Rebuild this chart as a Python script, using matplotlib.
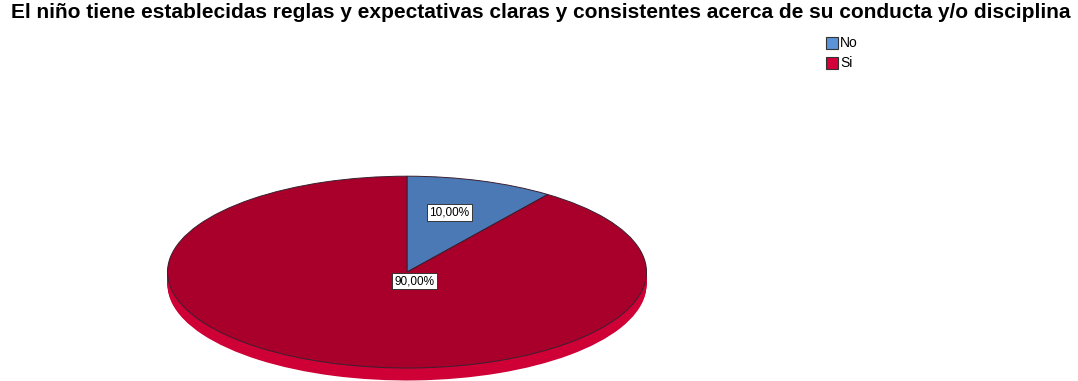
import numpy as np
import matplotlib.pyplot as plt
from matplotlib.patches import Rectangle

plt.rcParams["font.family"] = ["Liberation Sans", "DejaVu Sans"]

# Data
categories = ["No", "Si"]
percentages = [10.0, 90.0]
label_texts = ["10,00%", "90,00%"]
title = "El niño tiene establecidas reglas y expectativas claras y consistentes acerca de su conducta y/o disciplina"

top_colors = ["#4a79b6", "#a8002b"]
side_colors = ["#3b6aa8", "#cf0036"]
legend_colors = ["#5b93d8", "#d4003a"]

W, H = 1078, 381
fig = plt.figure(figsize=(W / 100, H / 100), dpi=100)

# pie axes: radius 1 -> 240 px across, 96 px tall (tilted disc)
rx, ry = 240, 96
cx, cy = 407, 272
depth = 0.13
x0 = cx - rx
ax = fig.add_axes([x0 / W, (H - (cy + ry * (1 + depth + 0.05))) / H,
                   2 * rx / W, ry * (2 + depth + 0.05) / H])

# side of the disc: stacked copies of the pie shifted downward
n_layers = 14
for k in range(n_layers, 0, -1):
    off = -depth * k / n_layers
    ax.pie(percentages, startangle=90, counterclock=False, center=(0, off),
           colors=side_colors, wedgeprops=dict(linewidth=0))

# top face
wedges, _ = ax.pie(percentages, startangle=90, counterclock=False,
                   colors=top_colors,
                   wedgeprops=dict(linewidth=0.7, edgecolor="#3a2030"))

ax.set_aspect("auto")
ax.set_xlim(-1.002, 1.002)
ax.set_ylim(-1 - depth - 0.05, 1.002)
ax.axis("off")

# percentage labels in white boxes
box = dict(boxstyle="square,pad=0.2", fc="white", ec="#222222", lw=0.6)
theta_no = np.deg2rad(90 - percentages[0] / 100 * 360 / 2)
ax.text(0.57 * np.cos(theta_no), 0.65 * np.sin(theta_no), label_texts[0],
        ha="center", va="center", fontsize=8.5, bbox=box)
ax.text(0.03, -0.094, label_texts[1], ha="center", va="center",
        fontsize=8.5, bbox=box)

fig.text(541 / W, 1 - 12 / H, title, ha="center", va="center",
         fontsize=15, fontweight="bold")

# legend
for i, (name, col) in enumerate(zip(categories, legend_colors)):
    y = H - (43 + 20 * i)
    fig.patches.append(Rectangle((826 / W, (y - 6) / H), 12 / W, 12 / H,
                                 transform=fig.transFigure, facecolor=col,
                                 edgecolor="#333333", linewidth=0.8))
    fig.text(840 / W, y / H, name, ha="left", va="center", fontsize=10)

fig.savefig("out.png", dpi=100, facecolor="white")
